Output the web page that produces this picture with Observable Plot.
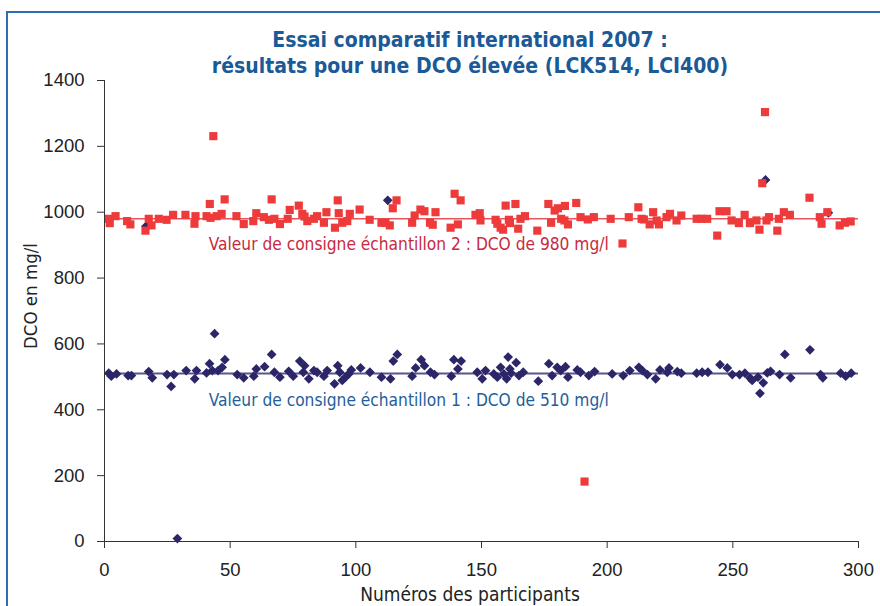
<!DOCTYPE html>
<html><head><meta charset="utf-8">
<script src="https://cdn.jsdelivr.net/npm/d3@7"></script>
<script src="https://cdn.jsdelivr.net/npm/@observablehq/plot@0.6"></script>
<style>
body{margin:0;background:#fff;}
#wrap{position:relative;width:880px;height:606px;overflow:hidden;background:#fff;}
#frame{position:absolute;left:6px;top:11px;width:900px;height:700px;border-left:2px solid #2d6fb5;border-top:2px solid #2d6fb5;}
#title{position:absolute;left:0;width:940px;top:27px;text-align:center;font-family:"DejaVu Sans Condensed";font-weight:bold;font-size:21px;color:#1b5a96;line-height:26px;}
#ylab{position:absolute;left:30px;top:296px;transform:translate(-50%,-50%) rotate(-90deg);white-space:nowrap;font-family:"DejaVu Sans Condensed";font-size:18.5px;color:#222;}
#xlab{position:absolute;left:470px;top:594px;transform:translate(-50%,-50%);white-space:nowrap;font-family:"DejaVu Sans Condensed";font-size:19px;color:#222;}
#plot{position:absolute;left:0;top:0;}
</style></head>
<body>
<div id="wrap">
  <div id="frame"></div>
  <div id="plot"></div>
  <div id="title">Essai comparatif international 2007 :<br>résultats pour une DCO élevée (LCK514, LCI400)</div>
  <div id="ylab">DCO en mg/l</div>
  <div id="xlab">Numéros des participants</div>
</div>
<script>
// Sample 2 (red squares): participant number, DCO mg/l
const s2x = [1.7,2.1,4.4,9.0,10.3,16.3,17.6,18.7,21.6,24.7,27.3,32.2,35.8,36.2,40.6,41.9,43.3,42.2,44.6,46.6,47.8,52.5,55.4,59.2,60.4,63.4,65.4,66.5,67.6,69.8,72.9,73.7,
  77.3,78.7,79.6,80.7,83.3,84.6,87.3,88.3,91.7,92.8,93.2,94.6,96.6,97.6,101.5,105.5,110.2,111.8,113.5,114.7,116.2,122.4,123.4,125.7,127.3,129.5,130.6,131.7,137.7,139.3,140.6,141.7,147.6,149.3,
  149.6,155.6,156.3,157.6,158.6,159.6,160.9,161.3,163.5,164.6,165.5,167.3,172.2,176.6,177.7,179.1,180.4,183.2,181.7,183.0,184.4,187.7,189.4,192.3,194.7,201.4,206.1,208.6,212.4,213.7,214.6,216.9,218.3,219.7,220.6,223.6,225.0,
  227.6,229.5,235.6,237.6,239.8,243.8,244.7,247.5,249.5,252.4,254.7,256.8,259.4,260.6,261.7,262.8,263.4,264.4,267.7,268.3,270.3,272.7,280.5,284.6,285.3,287.6,292.5,294.6,296.9,
  191.0];
const s2y = [980,967,988,973,963,944,980,960,980,977,992,992,965,988,988,1025,1231,983,988,995,1039,988,964,973,997,985,977,1039,980,964,980,1007,
  1020,995,987,973,980,988,968,1000,953,1036,997,968,973,995,1008,977,968,968,960,1012,1036,968,990,1008,1003,968,962,1000,953,1056,963,1036,992,997,
  975,977,965,953,947,1020,977,967,1025,950,980,988,944,1025,968,1005,1012,1019,980,975,963,1028,985,978,985,980,905,985,1015,980,978,963,1000,975,963,985,995,
  975,990,980,980,980,929,1003,1003,975,967,992,967,975,947,1088,1304,975,985,944,980,1000,992,1044,985,965,1000,960,968,972,
  182];

// Sample 1 (navy diamonds): participant number, DCO mg/l
const s1x = [1.7,2.7,4.8,9.4,10.7,17.6,19.0,24.9,26.5,27.6,32.5,35.9,36.6,40.6,41.8,43.8,42.9,45.2,46.8,47.9,52.8,55.4,59.4,60.4,63.7,66.5,67.6,69.8,73.3,
  75.1,77.7,79.1,79.6,81.3,83.3,84.6,87.3,88.6,91.5,92.8,93.6,94.6,95.9,97.2,98.2,101.9,105.6,110.2,113.8,114.9,116.5,122.4,123.8,126.0,127.3,129.7,131.3,138.0,139.0,140.6,141.9,148.3,
  150.3,151.6,154.9,156.3,157.6,158.9,160.0,160.6,161.3,161.8,163.8,164.9,166.6,172.6,176.8,178.1,180.1,181.5,183.4,184.4,188.1,189.4,192.7,195.0,202.0,206.4,209.0,212.6,214.0,216.0,219.3,221.0,223.9,
  224.6,227.9,229.5,235.6,237.8,240.1,244.9,247.8,249.8,252.7,254.8,256.8,257.7,260.0,262.1,260.8,263.7,265.0,268.6,270.7,273.0,280.7,284.9,285.8,292.9,294.9,297.1,
  29.0,112.7,263.0,16.5,288.0];
const s1y = [511,502,509,504,504,516,497,507,471,507,519,494,519,512,540,631,519,519,529,552,507,497,502,524,531,568,514,499,517,
  502,548,514,534,494,519,514,502,519,479,534,514,489,499,509,521,527,514,499,494,548,568,502,527,552,534,514,507,502,552,524,548,514,
  494,519,509,499,529,509,494,560,524,511,543,504,514,487,540,504,529,519,531,499,521,514,504,516,509,504,519,529,519,507,494,521,514,
  527,516,511,511,514,514,537,527,507,507,511,497,489,499,482,450,512,517,507,568,497,582,507,497,511,502,511,
  9,1036,1098,957,998];

const targets = [980, 510];
const xTicks = [0, 50, 100, 150, 200, 250, 300];
const yTicks = [0, 200, 400, 600, 800, 1000, 1200, 1400];
const labelText = ["Valeur de consigne échantillon 2 : DCO de 980 mg/l",
                   "Valeur de consigne échantillon 1 : DCO de 510 mg/l"];

const s1 = s1x.map((x, i) => ({x, y: s1y[i]}));
const s2 = s2x.map((x, i) => ({x, y: s2y[i]}));

const RED = "#ee3a3a", NAVY = "#2b2668";
const chart = Plot.plot({
  width: 880, height: 606,
  marginLeft: 104, marginRight: 22, marginTop: 80, marginBottom: 65,
  x: {domain: [0, 300]},
  y: {domain: [0, 1400]},
  style: {fontFamily: "Liberation Sans, Arial, sans-serif", fontSize: "18.5px", color: "#222", background: "transparent"},
  marks: [
    Plot.ruleY([targets[0]], {stroke: "#e8545c", strokeWidth: 1.5}),
    Plot.ruleY([targets[1]], {stroke: "#5a5590", strokeWidth: 2}),
    Plot.dot(s1, {x: "x", y: "y", symbol: "diamond2", r: 4.4, fill: NAVY}),
    Plot.dot(s2, {x: "x", y: "y", symbol: "square", r: 4.6, fill: RED}),
    Plot.text([labelText[0]], {x: 41.5, y: 902, text: d => d, textAnchor: "start", fill: "#c9283e",
      fontFamily: "DejaVu Sans Condensed", fontSize: 17.2}),
    Plot.text([labelText[1]], {x: 41.5, y: 428, text: d => d, textAnchor: "start", fill: "#1e5e9c",
      fontFamily: "DejaVu Sans Condensed", fontSize: 17.2}),
    Plot.axisY({ticks: yTicks, tickSize: 7, tickPadding: 13, tickFormat: d => String(d), label: null, stroke: "#333"}),
    Plot.axisX({ticks: xTicks, tickSize: 7, tickPadding: 14, tickFormat: d => String(d), label: null, stroke: "#333"}),
    Plot.ruleX([0], {stroke: "#333"}),
    Plot.ruleY([0], {stroke: "#333"})
  ]
});
document.getElementById("plot").appendChild(chart);
</script>
</body></html>
